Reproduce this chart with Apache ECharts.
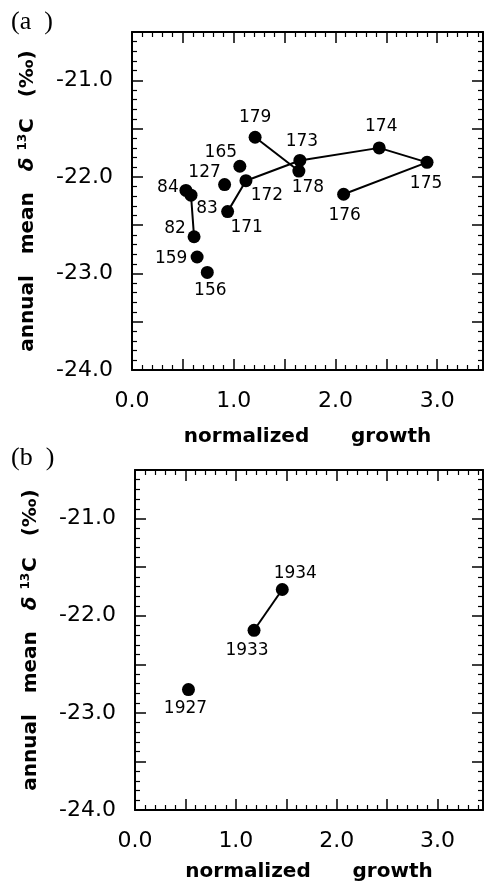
<!DOCTYPE html>
<html><head><meta charset="utf-8">
<script src="https://cdn.jsdelivr.net/npm/echarts@6/dist/echarts.min.js"></script>
<style>html,body{margin:0;padding:0;background:#fff}#c{width:488px;height:888px}</style>
</head><body><div id="c"></div>
<script>
// ---- data: panel (a)
const yearsA  = ['82','83','84','127','156','159','165','171','172','173','174','175','176','178','179'];
const growthA = [0.61, 0.58, 0.53, 0.91, 0.74, 0.64, 1.06, 0.94, 1.12, 1.65, 2.43, 2.90, 2.08, 1.64, 1.21];
const d13cA   = [-22.62,-22.19,-22.14,-22.08,-22.99,-22.83,-21.89,-22.36,-22.04,-21.83,-21.70,-21.85,-22.18,-21.94,-21.59];
const linksA  = [['82','83','84'], ['171','172','173','174','175','176'], ['178','179']];
// ---- data: panel (b)
const yearsB  = ['1927','1933','1934'];
const growthB = [0.53, 1.18, 1.46];
const d13cB   = [-22.76,-22.15,-21.73];
const linksB  = [['1933','1934']];
// ---- axis settings
const xMin = 0, xMax = 3.45, xStep = 0.5;
const yMin = -24, yMax = -20.5, yStep = 0.5;
const xTitle = 'normalized      growth';

// label placement (style, offsets of label centre from marker)
const offA = {'82':[-19,-8],'83':[16,13],'84':[-18,-3],'127':[-20,-12],'156':[3,18],'159':[-26,2],
  '165':[-19,-14],'171':[19,16],'172':[21,15],'173':[2,-19],'174':[2,-21],'175':[-1,21],'176':[1,21],
  '178':[9,17],'179':[0,-20]};
const offB = {'1927':[-3,19],'1933':[-7,20],'1934':[13,-16]};

const FONT = 'DejaVu Sans';
const isInt = v => Math.abs(v - Math.round(v)) < 1e-6;
const lineStyle = {color:'#000', width:2};
const tickStyle = {color:'#000', width:1.5};

function xAxes(gi, gap){
  const base = {gridIndex:gi, type:'value', min:xMin, max:xMax, interval:xStep,
    axisLine:{show:true, onZero:false, lineStyle:lineStyle},
    axisTick:{show:true, inside:true, length:11, lineStyle:tickStyle},
    minorTick:{show:true, splitNumber:5, length:5, lineStyle:{color:'#000', width:1.2}},
    splitLine:{show:false}, minorSplitLine:{show:false}};
  return [
    Object.assign({}, base, {position:'bottom',
      axisLabel:{show:true, margin:20, fontSize:22, color:'#000', fontFamily:FONT,
        formatter: v => isInt(v) ? v.toFixed(1) : '', showMaxLabel:false, hideOverlap:false},
      name:xTitle, nameLocation:'middle', nameGap:gap, nameMoveOverlap:false,
      nameTextStyle:{fontFamily:FONT, fontWeight:'bold', fontSize:20, color:'#000'}}),
    Object.assign({}, base, {position:'top', axisLabel:{show:false}})
  ];
}
function yAxes(gi){
  const base = {gridIndex:gi, type:'value', min:yMin, max:yMax, interval:yStep,
    axisLine:{show:true, onZero:false, lineStyle:lineStyle},
    axisTick:{show:true, inside:true, length:11, lineStyle:tickStyle},
    minorTick:{show:true, splitNumber:5, length:5, lineStyle:{color:'#000', width:1.2}},
    splitLine:{show:false}, minorSplitLine:{show:false}};
  return [
    Object.assign({}, base, {position:'left',
      axisLabel:{show:true, margin:19, fontSize:22, color:'#000', fontFamily:FONT,
        formatter: v => isInt(v) ? v.toFixed(1) : '', hideOverlap:false},
      name:'{t|annual   mean   }{d|δ }{s|13}{t|C   (‰)}', nameLocation:'middle', nameGap:93,
      nameRotate:90, nameMoveOverlap:false,
      nameTextStyle:{color:'#000', rich:{
        t:{fontFamily:FONT, fontWeight:'bold', fontSize:20, color:'#000'},
        d:{fontFamily:FONT, fontWeight:'bold', fontStyle:'italic', fontSize:20, color:'#000'},
        s:{fontFamily:FONT, fontWeight:'bold', fontSize:12, color:'#000', padding:[0,1,10,0]}
      }}}),
    Object.assign({}, base, {position:'right', axisLabel:{show:false}})
  ];
}

function pointsSeries(years, xs, ys, offs, xi, yi){
  return {type:'scatter', xAxisIndex:xi, yAxisIndex:yi, symbol:'circle', symbolSize:13, z:5,
    itemStyle:{color:'#000', opacity:1},
    label:{show:true, position:'inside', fontFamily:FONT, fontSize:17, color:'#000',
      align:'center', verticalAlign:'middle', formatter: p => p.data.name},
    data: years.map((y,i)=>({name:y, value:[xs[i], ys[i]], label:{offset:offs[y]}}))};
}
function linkSeries(links, years, xs, ys, xi, yi){
  return links.map(chain => ({type:'line', xAxisIndex:xi, yAxisIndex:yi, symbol:'none', z:3,
    lineStyle:{color:'#000', width:2}, silent:true,
    data: chain.map(y => { const i = years.indexOf(y); return [xs[i], ys[i]]; })}));
}

const chart = echarts.init(document.getElementById('c'), null, {renderer:'canvas'});
chart.setOption({
  animation:false,
  backgroundColor:'#fff',
  grid:[{left:132, top:32, width:351, height:338},
        {left:135, top:470, width:348, height:340}],
  xAxis:[...xAxes(0,57), ...xAxes(1,52)],
  yAxis:[...yAxes(0), ...yAxes(1)],
  graphic:[
    {type:'text', left:11, top:9, style:{text:'(a  )', font:'26px "Liberation Serif"', fill:'#000'}},
    {type:'text', left:11, top:445, style:{text:'(b  )', font:'26px "Liberation Serif"', fill:'#000'}}
  ],
  series:[
    ...linkSeries(linksA, yearsA, growthA, d13cA, 0, 0),
    pointsSeries(yearsA, growthA, d13cA, offA, 0, 0),
    ...linkSeries(linksB, yearsB, growthB, d13cB, 2, 2),
    pointsSeries(yearsB, growthB, d13cB, offB, 2, 2)
  ]
});
</script></body></html>
